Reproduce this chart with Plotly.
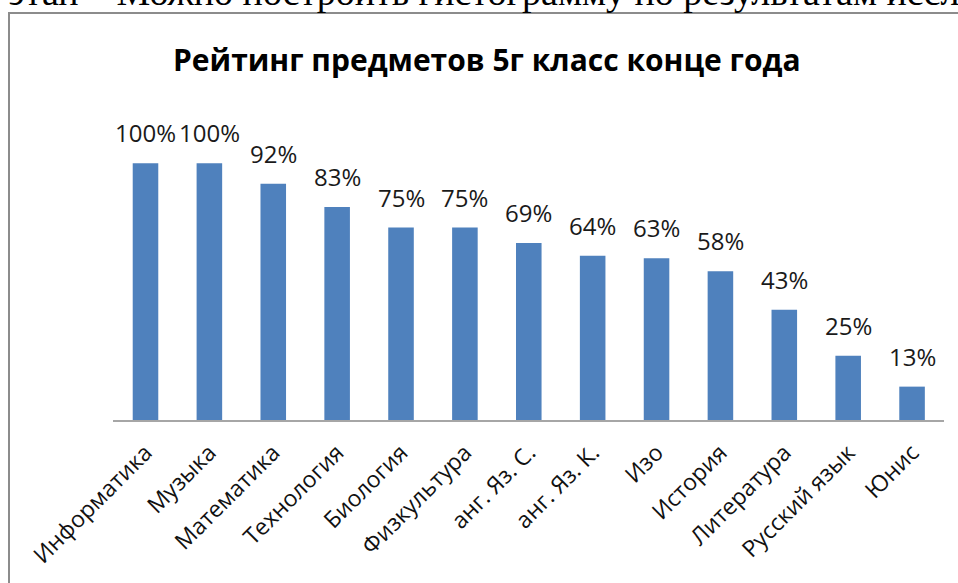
import plotly.graph_objects as go

categories = ["Информатика", "Музыка", "Математика", "Технология", "Биология",
              "Физкультура", "анг. Яз. С.", "анг. Яз. К.", "Изо", "История",
              "Литература", "Русский язык", "Юнис"]
values = [1.00, 1.00, 0.92, 0.83, 0.75, 0.75, 0.69, 0.64, 0.63, 0.58, 0.43, 0.25, 0.13]
labels = ["100%", "100%", "92%", "83%", "75%", "75%", "69%", "64%", "63%", "58%", "43%", "25%", "13%"]

title_text = "Рейтинг предметов 5г класс конце года"
page_text = "7 этап – Можно построить гистограмму по результатам исследования"

W, H = 958, 583
ml, mr, mt, mb = 113, 14, 112, 163
pw, ph = W - ml - mr, H - mt - mb

fig = go.Figure(go.Bar(
    x=categories, y=values,
    marker=dict(color="#4F81BD", line=dict(color="#4F81BD", width=0)),
    hoverinfo="x+y",
))

def px_x(p):
    return (p - ml) / pw

def px_y(p):
    return (H - mb - p) / ph

annotations = [
    dict(x=c, y=v, text=t, xref="x", yref="y", xanchor="center", yanchor="bottom",
         yshift=12, showarrow=False,
         font=dict(family="Open Sans", size=24, color="#1a1a1a"))
    for c, v, t in zip(categories, values, labels)
]
annotations += [
    dict(text="<b>" + title_text + "</b>", xref="paper", yref="paper",
         x=px_x(487), y=px_y(59), xanchor="center", yanchor="middle",
         showarrow=False, font=dict(family="Open Sans", size=30, color="#000000")),
    dict(text=page_text, xref="paper", yref="paper",
         x=px_x(-22), y=px_y(15), xanchor="left", yanchor="bottom",
         showarrow=False, font=dict(family="Liberation Serif", size=38, color="#000000")),
]

fig.update_layout(
    width=W, height=H,
    margin=dict(l=ml, r=mr, t=mt, b=mb),
    paper_bgcolor="white", plot_bgcolor="white",
    bargap=0.6,
    showlegend=False,
    xaxis=dict(tickangle=-45, showgrid=False, showline=True, linecolor="#A6A6A6",
               linewidth=2, ticks="", ticklabelstandoff=8,
               tickfont=dict(family="Open Sans", size=23, color="#111111"),
               fixedrange=True),
    yaxis=dict(range=[0, 1.2], visible=False, fixedrange=True),
    annotations=annotations,
    shapes=[
        dict(type="rect", xref="paper", yref="paper",
             x0=px_x(9), x1=px_x(1000), y0=px_y(13), y1=px_y(620),
             line=dict(color="#8C8C8C", width=2), fillcolor="rgba(0,0,0,0)", layer="above"),
    ],
)

fig.write_html("out.html", config={"displayModeBar": False})
